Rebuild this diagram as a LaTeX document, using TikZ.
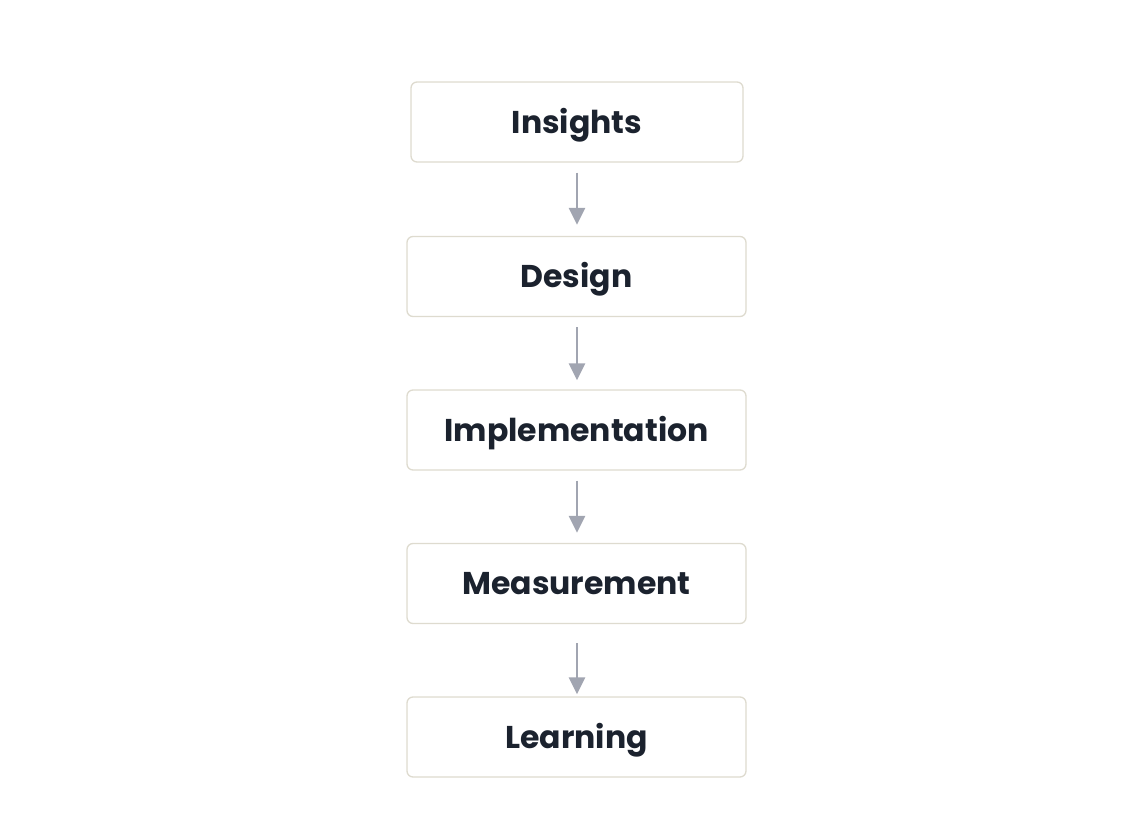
\documentclass[tikz,border=0pt]{standalone}
\usepackage{fontspec}
\setmainfont{Poppins}
\usetikzlibrary{arrows.meta}
\definecolor{boxline}{HTML}{DEDBCF}
\definecolor{arrowc}{HTML}{A1A5B1}
\definecolor{txt}{HTML}{1B222E}
\tikzset{
  stage/.style={draw=boxline, line width=1.3pt, rounded corners=6pt, fill=white,
    minimum width=339pt, minimum height=80pt, inner sep=0pt,
    text height=22pt, text depth=0pt,
    font=\fontsize{31.5}{36}\selectfont\bfseries, text=txt},
  flow/.style={draw=arrowc, line width=2.6pt, -{Triangle[length=17pt,width=16pt]}}
}
\begin{document}
\begin{tikzpicture}[x=1pt,y=1pt]
\useasboundingbox (0,0) rectangle (1122,-819);
\node[stage, minimum width=332pt] (ins) at (577,-122) {Insights};
\node[stage] (des) at (576.5,-276.5) {Design};
\node[stage] (imp) at (576.5,-430) {Implementation};
\node[stage] (mea) at (576.5,-583.5) {Measurement};
\node[stage] (lea) at (576.5,-737) {Learning};
\draw[flow] ([yshift=-10pt]ins.south -| 577,0) -- ([yshift=11pt]des.north -| 577,0);
\draw[flow] ([yshift=-10pt]des.south -| 577,0) -- ([yshift=9pt]imp.north -| 577,0);
\draw[flow] ([yshift=-10pt]imp.south -| 577,0) -- ([yshift=10pt]mea.north -| 577,0);
\draw[flow] ([yshift=-19pt]mea.south -| 577,0) -- ([yshift=2pt]lea.north -| 577,0);
\end{tikzpicture}
\end{document}
